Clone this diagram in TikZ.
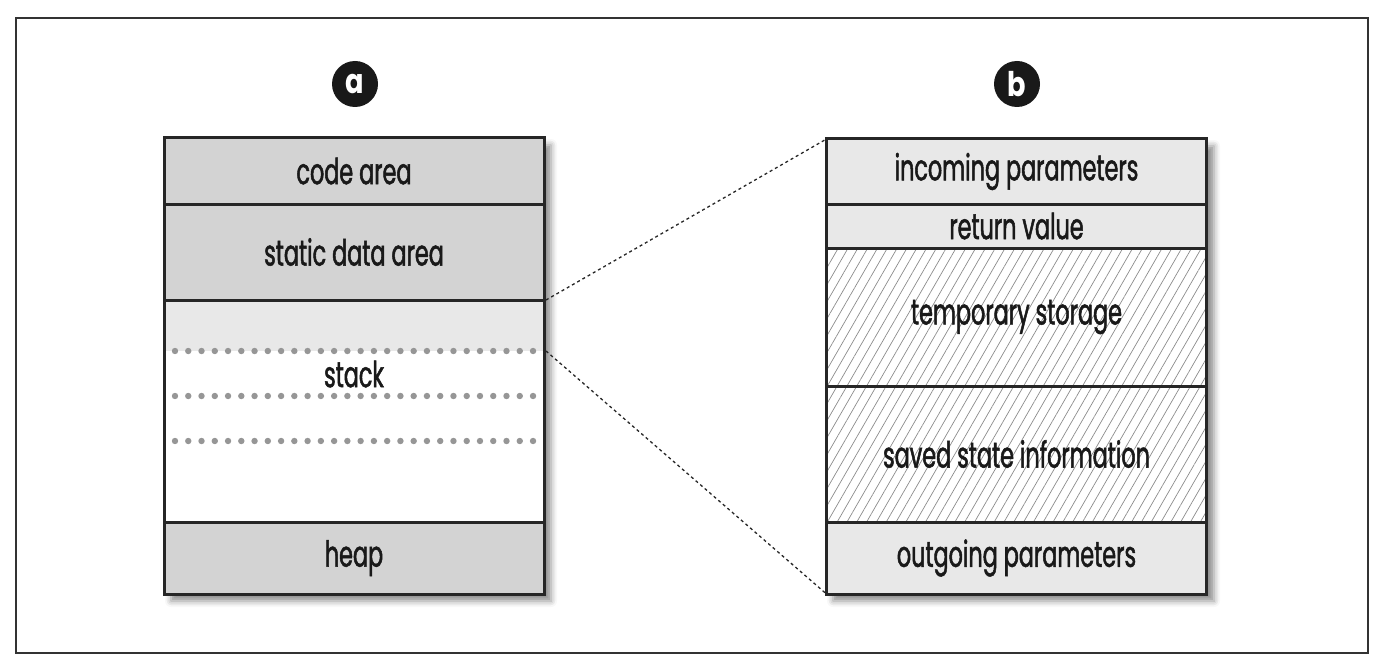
\documentclass[tikz,border=0pt]{standalone}
\usepackage{fontspec}
\setmainfont{Poppins}[FakeStretch=0.62,FakeBold=1.4]
\newfontfamily\badgefont{Poppins}[FakeStretch=0.8]
\usetikzlibrary{patterns.meta,shadows.blur}
\definecolor{darkcell}{RGB}{211,211,211}
\definecolor{lightcell}{RGB}{232,232,232}
\definecolor{dotgray}{RGB}{150,150,150}
\definecolor{hatch}{RGB}{140,140,140}
\tikzset{
  cell/.style={draw=black!85, line width=3pt, outer sep=0pt, minimum width=380pt, inner sep=0pt, font=\fontsize{36}{38}\selectfont, text=black!90},
  darkc/.style={cell, fill=darkcell},
  lightc/.style={cell, fill=lightcell},
  hatchc/.style={cell, pattern={Lines[angle=60,distance=8.5pt,line width=0.7pt]}, pattern color=hatch},
  badge/.style={circle, fill=black!90, text=white, minimum size=46pt, inner sep=0pt, font=\badgefont\bfseries\fontsize{34}{34}\selectfont},
  zoomline/.style={dash pattern=on 3pt off 3pt, line width=1.3pt, black!85},
  shadowbox/.style={fill=white, blur shadow={shadow xshift=7pt, shadow yshift=-7pt, shadow blur radius=6pt, shadow opacity=45}}
}
\begin{document}
\begin{tikzpicture}[x=1pt,y=-1pt]
\useasboundingbox (0,0) rectangle (1380,663);
\draw[line width=2pt, black!80] (16,18) rectangle (1368,653);
% shadows
\path[shadowbox] (164,138) rectangle (544,594);
\path[shadowbox] (826,139) rectangle (1207,594);
% left column
\node[darkc, minimum height=66pt] (code) at (354,171) {code area};
\node[darkc, minimum height=96pt] (static) at (354,252) {static data area};
\node[cell, fill=white, minimum height=222pt] (stack) at (354,411) {};
\fill[lightcell] (stack.north west) rectangle (544,351);
\foreach \yy in {351,396,441}{
  \foreach \i in {0,...,27}{
    \fill[dotgray] (175+\i*13.26,\yy) circle (3.2pt);
  }
}
\node[cell, draw=none, fill=none] (stacktxt) at (354,374) {stack};
\draw[line width=3pt, black!85] (stack.north west) rectangle (stack.south east);
\node[darkc, minimum height=72pt] (heap) at (354,558) {heap};
% right column
\node[lightc, minimum height=65pt] (inc) at (1016.5,171.5) {incoming parameters};
\node[lightc, minimum height=44pt] (ret) at (1016.5,226) {return value};
\node[hatchc, minimum height=138pt] (temp) at (1016.5,317) {temporary storage};
\node[hatchc, minimum height=136pt] (saved) at (1016.5,454) {saved state information};
\node[lightc, minimum height=72pt] (out) at (1016.5,558) {outgoing parameters};
% badges
\node[badge] (ba) at (355,84) {a};
\node[badge] (bb) at (1017,84) {b};
% zoom lines
\coordinate (s1) at (546,300);
\coordinate (s2) at (546,351);
\draw[zoomline] (s1) -- (inc.north west);
\draw[zoomline] (s2) -- (out.south west);
\end{tikzpicture}
\end{document}
